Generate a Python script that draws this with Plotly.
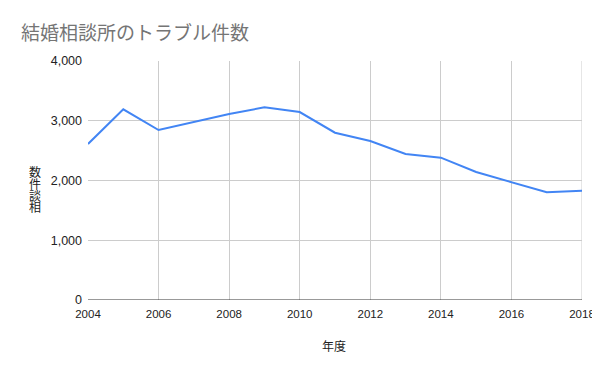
import plotly.graph_objects as go

years = [2004, 2005, 2006, 2007, 2008, 2009, 2010, 2011, 2012, 2013, 2014, 2015, 2016, 2017, 2018]
counts = [2611, 3191, 2845, 2979, 3113, 3225, 3146, 2800, 2661, 2443, 2382, 2142, 1975, 1802, 1829]
x_ticks = [2004, 2006, 2008, 2010, 2012, 2014, 2016, 2018]
y_ticks = [0, 1000, 2000, 3000, 4000]
y_tick_text = ["0", "1,000", "2,000", "3,000", "4,000"]

title_text = "結婚相談所のトラブル件数"
x_title = "年度"
y_title_chars = ["数", "件", "談", "相"]

FONT = "Liberation Sans, Arial, sans-serif"
CJK = "Noto Sans CJK JP, sans-serif"

# page has an 8px body margin; figure is sized so nothing overflows 600x371
OFF = 8
W, H = 600 - OFF, 371 - 2 * OFF
# target plot area in page pixels: x 88..582, y 61..300
L, R, T = 88 - OFF, (OFF + W) - 582, 61 - OFF
B = (OFF + H) - 300
PW, PH = W - L - R, H - T - B


def px_to_paper_x(px):
    return (px - OFF - L) / PW


def px_to_paper_y(py):
    return (H - B - (py - OFF)) / PH


fig = go.Figure()
fig.add_trace(go.Scatter(
    x=years, y=counts, mode="lines",
    line=dict(color="#4285F4", width=2),
    hoverinfo="x+y",
))

annotations = [
    dict(text=title_text, xref="paper", yref="paper",
         x=px_to_paper_x(19), y=px_to_paper_y(32), xanchor="left", yanchor="middle",
         showarrow=False, font=dict(family=CJK, size=19, color="#757575")),
    dict(text=x_title, xref="paper", yref="paper",
         x=px_to_paper_x(334), y=px_to_paper_y(345), xanchor="center", yanchor="middle",
         showarrow=False, font=dict(family=CJK, size=12, color="#222222")),
]
for i, ch in enumerate(y_title_chars):
    annotations.append(dict(
        text=ch, xref="paper", yref="paper",
        x=px_to_paper_x(34.5), y=px_to_paper_y(171 + 12 * i),
        xanchor="center", yanchor="middle", showarrow=False,
        font=dict(family=CJK, size=12, color="#222222"),
    ))

fig.update_layout(
    width=W, height=H,
    margin=dict(l=L, r=R, t=T, b=B, pad=0, autoexpand=False),
    paper_bgcolor="white", plot_bgcolor="white",
    showlegend=False,
    font=dict(family=FONT, color="#222222", size=12),
    xaxis=dict(
        range=[2004, 2018], tickmode="array", tickvals=x_ticks,
        showgrid=True, gridcolor="#cccccc", gridwidth=1,
        zeroline=False, showline=False, ticks="",
        tickfont=dict(size=11.5, color="#222222"),
        ticklabelstandoff=5,
        automargin=False,
        fixedrange=True,
    ),
    yaxis=dict(
        range=[0, 4000], tickmode="array", tickvals=y_ticks, ticktext=y_tick_text,
        showgrid=True, gridcolor="#cccccc", gridwidth=1,
        zeroline=False, showline=False, ticks="",
        tickfont=dict(size=12.5, color="#222222"),
        ticklabelstandoff=5,
        automargin=False,
        fixedrange=True,
    ),
    annotations=annotations,
    shapes=[
        dict(type="line", xref="x", yref="y", x0=2004, x1=2018, y0=0, y1=0,
             line=dict(color="#333333", width=1)),
        dict(type="line", xref="x", yref="y", x0=2018, x1=2018, y0=0, y1=4000,
             line=dict(color="#cccccc", width=1), layer="below"),
    ],
)

fig.write_html("out.html")
